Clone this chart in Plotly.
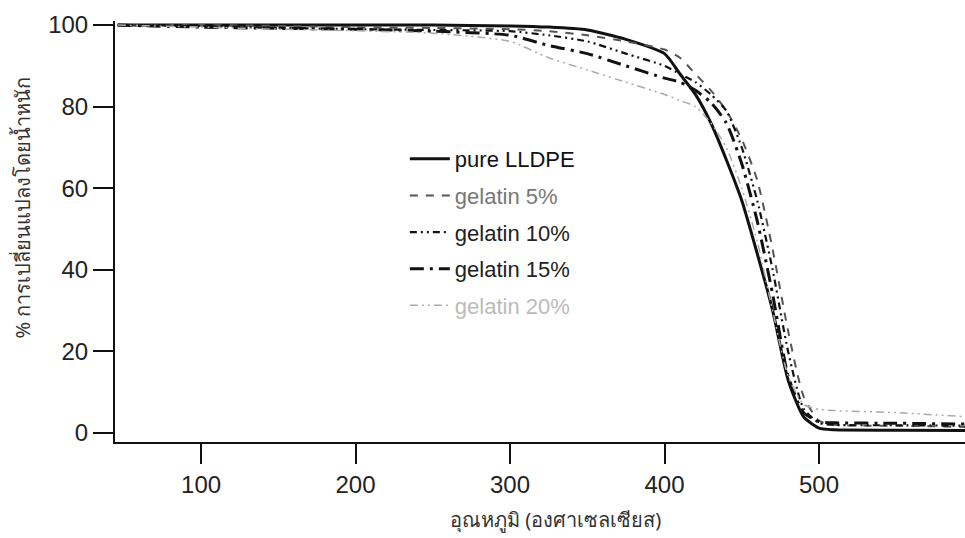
import plotly.graph_objects as go

# Temperature grid (degrees Celsius) shared by all weight-loss curves
temperature = [46, 100, 150, 200, 250, 300, 325, 350, 375, 400, 410, 420, 430,
               440, 450, 460, 470, 480, 490, 500, 510, 550, 595]

# Remaining weight (%) for each sample
pure_lldpe = [100, 100, 100, 100, 100, 99.8, 99.5, 98.8, 96.5, 93, 88, 83, 76,
              67, 57, 44, 30, 13, 4, 1.2, 0.8, 0.7, 0.6]
gelatin_5 = [100, 100, 99.8, 99.5, 99.3, 99, 98.5, 97.5, 96, 94, 92, 88, 84,
             79, 72, 62, 45, 25, 9, 3, 2, 1.8, 1.5]
gelatin_10 = [100, 99.8, 99.3, 99, 98.8, 98.5, 97.5, 96, 93, 90, 88, 86, 83,
              79, 70, 57, 40, 20, 6, 2.5, 2, 1.9, 1.8]
gelatin_15 = [100, 99.5, 99.2, 99, 98.5, 97.5, 95, 93, 90, 87, 86, 84, 81,
              76, 66, 52, 34, 14, 5, 2.8, 2.5, 2.4, 2.2]
gelatin_20 = [100, 99.5, 99, 98.6, 98, 96, 92, 89, 86, 83, 81.5, 80, 76,
              70, 60, 47, 30, 14, 7, 5.8, 5.5, 5, 4]

series = [
    ("pure LLDPE", pure_lldpe, "#111111", 3, "solid", "#111111"),
    ("gelatin 5%", gelatin_5, "#555555", 2, "8px,8px", "#777777"),
    ("gelatin 10%", gelatin_10, "#111111", 2.2, "7px,4px,2px,4px,2px,4px", "#222222"),
    ("gelatin 15%", gelatin_15, "#111111", 3, "14px,6px,3px,6px", "#222222"),
    ("gelatin 20%", gelatin_20, "#aaaaaa", 1.5, "8px,4px,2px,4px,2px,4px", "#bbbbbb"),
]

fig = go.Figure()
for i, (name, values, color, width, dash, text_color) in enumerate(series):
    fig.add_trace(go.Scatter(
        x=temperature, y=values, mode="lines",
        name=f"<span style='color:{text_color}'>{name}</span>",
        legendgroup=f"g{i}",
        line=dict(color=color, width=width, dash=dash, shape="spline", smoothing=0.6),
    ))

axis_common = dict(
    showgrid=False, zeroline=False, showline=True, linecolor="#111111",
    linewidth=2, ticks="outside", ticklen=20, tickwidth=2, tickcolor="#111111",
    tickfont=dict(family="Liberation Sans, Arial, sans-serif", size=24, color="#222222"),
)

fig.update_layout(
    width=965, height=538,
    margin=dict(l=115, r=0, t=21, b=96),
    paper_bgcolor="white", plot_bgcolor="white",
    xaxis=dict(range=[44.3, 594.5], tickvals=[100, 200, 300, 400, 500], **axis_common),
    yaxis=dict(range=[-2.2, 101], tickvals=[0, 20, 40, 60, 80, 100], **axis_common),
    legend=dict(
        x=0.341, y=0.722, xanchor="left", yanchor="top",
        bgcolor="rgba(0,0,0,0)", borderwidth=0,
        font=dict(family="Liberation Sans, Arial, sans-serif", size=22, color="#111111"),
        tracegroupgap=5, itemwidth=40,
    ),
    showlegend=True,
    annotations=[
        dict(text="% การเปลี่ยนแปลงโดยน้ำหนัก", xref="paper", yref="paper",
             x=-0.109, y=0.558, xanchor="center", yanchor="middle",
             textangle=-90, showarrow=False,
             font=dict(family="Noto Sans, DejaVu Sans, sans-serif", size=20, color="#333333")),
        dict(text="อุณหภูมิ (องศาเซลเซียส)", xref="paper", yref="paper",
             x=0.518, y=-0.185, xanchor="center", yanchor="middle", showarrow=False,
             font=dict(family="Noto Sans, DejaVu Sans, sans-serif", size=20, color="#333333")),
    ],
)

fig.write_html("out.html")
